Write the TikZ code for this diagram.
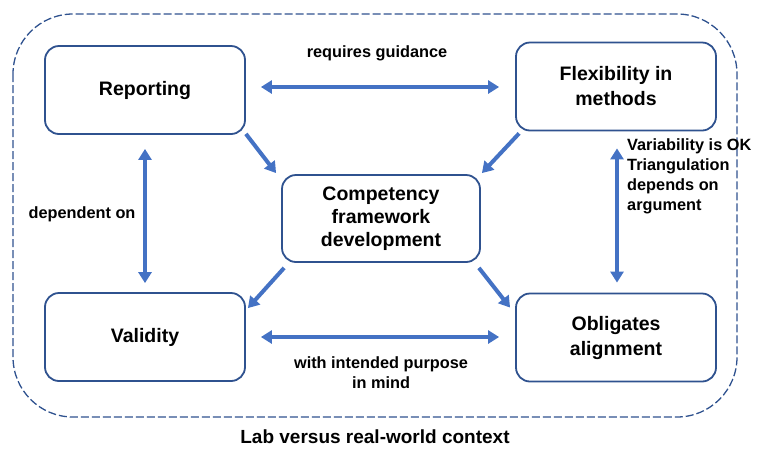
\documentclass[tikz,border=0pt]{standalone}
\usepackage{fontspec}
\setmainfont{Liberation Sans}
\usetikzlibrary{arrows.meta,calc}
\definecolor{boxblue}{RGB}{47,82,143}
\definecolor{arrowblue}{RGB}{68,114,196}
\begin{document}
\begin{tikzpicture}[x=1pt,y=-1pt,
  box/.style={draw=boxblue,line width=1.8pt,rounded corners=14pt,minimum width=200pt,minimum height=88pt,align=center,inner sep=0pt,font=\fontsize{19.5}{25}\selectfont\bfseries},
  lbl/.style={inner sep=0pt,font=\fontsize{16.3}{20}\selectfont\bfseries},
  tipshape/.tip={Triangle[length=11pt,width=13pt]},
  link/.style={draw=arrowblue,line width=4pt,-tipshape},
  dlink/.style={draw=arrowblue,line width=4pt,tipshape-tipshape},
  frame/.style={draw=boxblue,line width=1.3pt,dash pattern=on 8pt off 3pt,rounded corners=60pt}]
\useasboundingbox (0,0) rectangle (757,448);
\draw[frame] (13,14) rectangle (737,417);
\node[box] (rep) at (145,90) {Reporting};
\node[box] (flex) at (616,86.5) {Flexibility in\\methods};
\node[box] (val) at (145,337) {Validity};
\node[box] (obl) at (616,337.5) {Obligates\\alignment};
\node[box,minimum width=198pt,minimum height=87pt,font=\fontsize{19.5}{23}\selectfont\bfseries] (cen) at (381,218.5) {Competency\\framework\\development};
\draw[dlink] ($(rep.east)+(15,-3)$) -- ($(flex.west)+(-16,0.5)$);
\draw[dlink] ($(val.east)+(15,0)$) -- ($(obl.west)+(-16,-0.5)$);
\draw[dlink] ($(rep.south)+(0,14)$) -- ($(val.north)+(0,-9)$);
\draw[dlink] ($(flex.south)+(1,17)$) -- ($(obl.north)+(1,-10)$);
\draw[link] ($(rep.south east)+(0,-1)$) -- ($(cen.north west)+(-5,-1)$);
\draw[link] ($(flex.south west)+(4,2)$) -- ($(cen.north east)+(1,-1)$);
\draw[link] ($(cen.south west)+(3,5)$) -- ($(val.north east)+(2,16)$);
\draw[link] ($(cen.south east)+(-2,5)$) -- ($(obl.north west)+(-5,15)$);
\node[lbl] (lrg) at (377,53) {requires guidance};
\node[lbl] (ldep) at (82,214) {dependent on};
\node[lbl,align=left,anchor=north west] (lvar) at (627,138) {Variability is OK\\Triangulation\\depends on\\argument};
\node[lbl,align=center] (lint) at (381,373) {with intended purpose\\in mind};
\node[inner sep=0pt,font=\fontsize{19}{23}\selectfont\bfseries] (lab) at (375,437) {Lab versus real-world context};
\end{tikzpicture}
\end{document}
